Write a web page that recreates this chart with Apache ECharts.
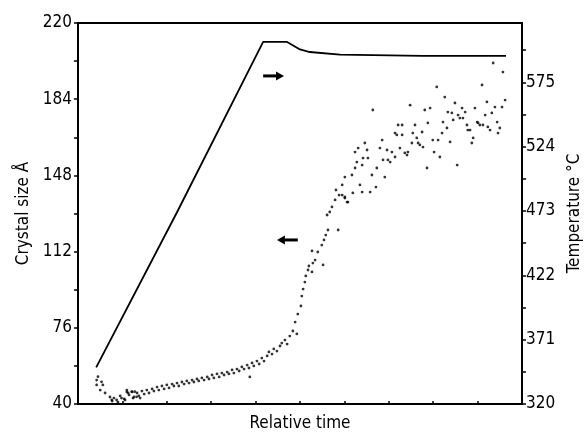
<!DOCTYPE html>
<html>
<head>
<meta charset="utf-8">
<script src="https://cdn.jsdelivr.net/npm/echarts@6/dist/echarts.min.js"></script>
<style>
  html, body { margin: 0; padding: 0; background: #fff; }
  #chart { width: 587px; height: 432px; }
</style>
</head>
<body>
<div id="chart"></div>
<script>
// crystal size (left axis), relative time 0..100
const sizeTime = [
  4.2, 4.5, 4.2, 5.3, 5.6, 5.0, 6.1, 7.2, 7.6, 8.7, 9.8, 10.6, 11.0, 11.3, 12.1, 12.8, 13.2, 12.4, 14.0,
  7.7, 8.1, 9.0, 9.5, 10.4, 11.0, 11.5, 12.2, 12.6, 13.3, 13.7, 14.4, 14.9, 15.5, 16.0, 16.7, 17.1, 17.8,
  18.2, 18.9, 19.4, 20.0, 20.5, 21.2, 21.6, 22.3, 22.7, 23.4, 23.9, 24.5, 25.0, 25.7, 26.1, 26.8, 27.2,
  27.9, 28.4, 29.1, 29.5, 30.2, 30.6, 31.3, 31.8, 32.4, 32.9, 33.6, 34.0, 34.7, 35.1, 35.8, 36.3, 36.9,
  37.4, 38.1, 38.5, 38.7, 39.2, 39.6, 40.3, 40.8, 41.4, 41.9, 42.6, 43.0, 43.7, 44.1, 44.8, 45.5, 45.9,
  46.6, 47.1, 47.7,
  48.4, 49.3, 48.9, 49.5, 50.2, 50.4, 50.7, 51.1, 51.3, 51.8, 52.0, 52.7, 52.9, 53.4, 54.0, 52.7, 55.2,
  54.9, 55.4, 55.8, 56.3, 58.6, 56.1, 56.7, 57.2, 57.9, 58.1, 58.8, 59.5, 60.1, 60.6, 59.5, 60.1, 60.8,
  60.1, 61.7, 61.9, 62.4, 62.8, 62.4, 63.1, 64.0, 63.5, 64.0, 64.2, 64.6, 65.3, 65.1, 65.8, 66.2, 66.4,
  67.1, 67.3, 68.0, 68.5, 68.7, 69.1, 69.6, 69.8, 70.3, 70.7, 71.4, 71.4, 71.8, 72.1, 72.5, 73.0, 73.0,
  73.6, 74.1, 74.3, 74.8, 75.2, 75.4, 75.9, 76.3, 76.6, 77.0, 77.5, 77.7, 78.1, 78.6, 78.8, 79.3, 79.9,
  80.2, 80.8, 81.1, 81.5, 82.0, 82.2, 82.6, 83.1, 83.3, 83.8, 84.2, 84.5, 84.9, 85.4, 85.6, 86.0, 86.5,
  86.7, 87.2, 87.6, 87.8, 88.3, 88.7, 89.0, 89.4, 89.9, 90.1, 90.5, 91.0, 91.2, 91.7, 92.1, 92.3, 92.8,
  93.2, 93.5, 93.9, 94.4, 94.6, 95.0, 95.5, 95.7, 96.2
];
const crystalSize = [
  51.3, 52.9, 49.0, 50.5, 49.0, 46.6, 45.2, 43.3, 41.9, 41.9, 42.8, 41.9, 46.6, 45.2, 45.8, 45.8, 43.4, 42.8, 42.8,
  41.4, 42.8, 40.9, 43.8, 42.4, 45.7, 44.3, 45.7, 43.3, 45.2, 43.8, 46.1, 44.7, 46.6, 45.2, 47.1, 46.1, 48.0,
  46.6, 48.5, 47.1, 49.0, 47.6, 49.4, 48.5, 49.9, 48.5, 50.4, 49.4, 50.9, 49.9, 51.3, 50.4, 51.8, 50.9,
  52.3, 51.3, 52.8, 51.8, 53.7, 52.3, 54.2, 52.8, 54.6, 53.7, 55.1, 54.2, 56.1, 54.6, 56.5, 55.6, 57.5,
  56.5, 58.4, 57.0, 52.8, 59.4, 58.0, 60.3, 58.9, 61.7, 60.3, 62.7, 64.6, 63.6, 66.0, 65.0, 67.4, 68.8,
  70.2, 68.3, 72.1,
  74.5, 73.1, 78.7, 82.5, 86.3, 91.0, 94.3, 97.6, 100.5, 103.3, 105.2, 102.4, 106.6, 108.0, 111.8, 112.3, 105.7,
  115.1, 117.5, 119.8, 122.2, 122.2, 129.3, 130.7, 133.1, 136.4, 141.1, 138.7, 143.5, 137.3, 135.4, 138.7, 137.8, 135.4,
  147.2, 148.2, 139.7, 151.5, 154.3, 159.0, 160.9, 152.9, 143.5, 140.1, 156.2, 163.3, 156.2, 160.0, 140.1, 148.2, 178.9,
  142.5, 151.5, 160.9, 164.7, 155.3, 147.2, 160.0, 155.3, 154.3, 159.0, 168.0, 156.7, 167.1, 171.8, 160.9, 171.8, 167.1,
  158.6, 157.6, 159.0, 181.2, 163.3, 168.0, 171.8, 165.7, 163.3, 162.4, 168.5, 161.4, 178.9, 151.5, 172.8, 179.8, 164.7,
  159.0, 189.8, 164.7, 156.7, 168.0, 173.2, 185.0, 170.4, 177.9, 163.8, 177.5, 174.2, 182.2, 152.9, 176.5, 175.1, 179.8,
  175.1, 177.9, 171.8, 169.4, 169.4, 163.3, 165.7, 179.8, 173.2, 172.8, 171.8, 190.7, 171.8, 176.5, 182.7, 170.9, 169.4,
  177.5, 201.1, 180.3, 173.2, 168.0, 170.4, 180.3, 196.8, 183.6
];

// temperature trace (right axis)
const tempTime = [4.1, 22.3, 41.7, 47.1, 50.0, 52.2, 59.0, 77.7, 96.4];
const temperature = [349, 472, 607, 607, 601, 599, 597, 596, 596];

const sizeLabels = [40, 76, 112, 148, 184, 220];
const sizeTicks = [40, 58, 76, 94, 112, 130, 148, 166, 184, 202, 220];
const tempLabels = [320, 371, 422, 473, 524, 575];
const tempTicks = [320, 345.5, 371, 396.5, 422, 447.5, 473, 498.5, 524, 549.5, 575, 600.5];

// arrows: [fromTime, toTime, crystal size level]
const arrows = [
  [41.7, 46.4, 195.0],
  [49.5, 44.8, 117.5]
];

const font = 'DejaVu Sans Condensed';

const chart = echarts.init(document.getElementById('chart'));

const option = {
  animation: false,
  backgroundColor: '#fff',
  grid: {
    left: 78, right: 65, top: 23, bottom: 28,
    outerBoundsMode: 'none',
    containLabel: false,
    show: true, borderColor: '#000', borderWidth: 2
  },
  xAxis: {
    type: 'value',
    min: 0, max: 100, interval: 10,
    name: 'Relative time',
    nameLocation: 'middle',
    nameGap: 11,
    nameTextStyle: { fontFamily: font, fontSize: 17, color: '#000' },
    axisLine: { lineStyle: { color: '#000', width: 2 } },
    axisTick: { inside: true, length: 3, lineStyle: { color: '#000', width: 1.5 } },
    axisLabel: { show: false },
    splitLine: { show: false }
  },
  yAxis: [
    {
      type: 'value',
      min: 40, max: 220,
      name: 'Crystal size Å',
      nameLocation: 'middle',
      nameRotate: 90,
      nameGap: 46,
      nameTextStyle: { fontFamily: font, fontSize: 17, color: '#000' },
      axisLine: { show: true, lineStyle: { color: '#000', width: 2 } },
      axisTick: { show: true, customValues: sizeTicks, length: 4, lineStyle: { color: '#000', width: 1.5 } },
      axisLabel: { customValues: sizeLabels, fontFamily: font, fontSize: 17, color: '#000', margin: 6 },
      splitLine: { show: false }
    },
    {
      type: 'value',
      position: 'right',
      min: 320, max: 622,
      name: 'Temperature °C',
      nameLocation: 'middle',
      nameRotate: 90,
      nameGap: 44,
      nameTextStyle: { fontFamily: font, fontSize: 17, color: '#000' },
      axisLine: { show: true, lineStyle: { color: '#000', width: 2 } },
      axisTick: { show: true, customValues: tempTicks, length: 4, lineStyle: { color: '#000', width: 1.5 } },
      axisLabel: { customValues: tempLabels, fontFamily: font, fontSize: 17, color: '#000', margin: 4 },
      splitLine: { show: false }
    }
  ],
  series: [
    {
      name: 'Temperature',
      type: 'line',
      yAxisIndex: 1,
      data: tempTime.map((t, i) => [t, temperature[i]]),
      showSymbol: false,
      lineStyle: { color: '#000', width: 1.8 },
      silent: true
    },
    {
      name: 'Crystal size',
      type: 'scatter',
      yAxisIndex: 0,
      data: sizeTime.map((t, i) => [t, crystalSize[i]]),
      symbolSize: 2.8,
      itemStyle: { color: '#000' },
      silent: true
    }
  ]
};

chart.setOption(option);

// draw the direction arrows as shapes, placed through the axes
const arrowGraphics = [];
arrows.forEach(([t0, t1, s]) => {
  const p0 = chart.convertToPixel({ seriesIndex: 1 }, [t0, s]);
  const p1 = chart.convertToPixel({ seriesIndex: 1 }, [t1, s]);
  const dir = p1[0] > p0[0] ? 1 : -1;
  const headLen = 8;
  arrowGraphics.push({
    type: 'line',
    shape: { x1: p0[0], y1: p0[1], x2: p1[0] - dir * headLen, y2: p1[1] },
    style: { stroke: '#000', lineWidth: 3 },
    silent: true
  });
  arrowGraphics.push({
    type: 'polygon',
    shape: { points: [[p1[0], p1[1]], [p1[0] - dir * headLen, p1[1] - 4.5], [p1[0] - dir * headLen, p1[1] + 4.5]] },
    style: { fill: '#000' },
    silent: true
  });
});
chart.setOption({ graphic: arrowGraphics });
</script>
</body>
</html>
